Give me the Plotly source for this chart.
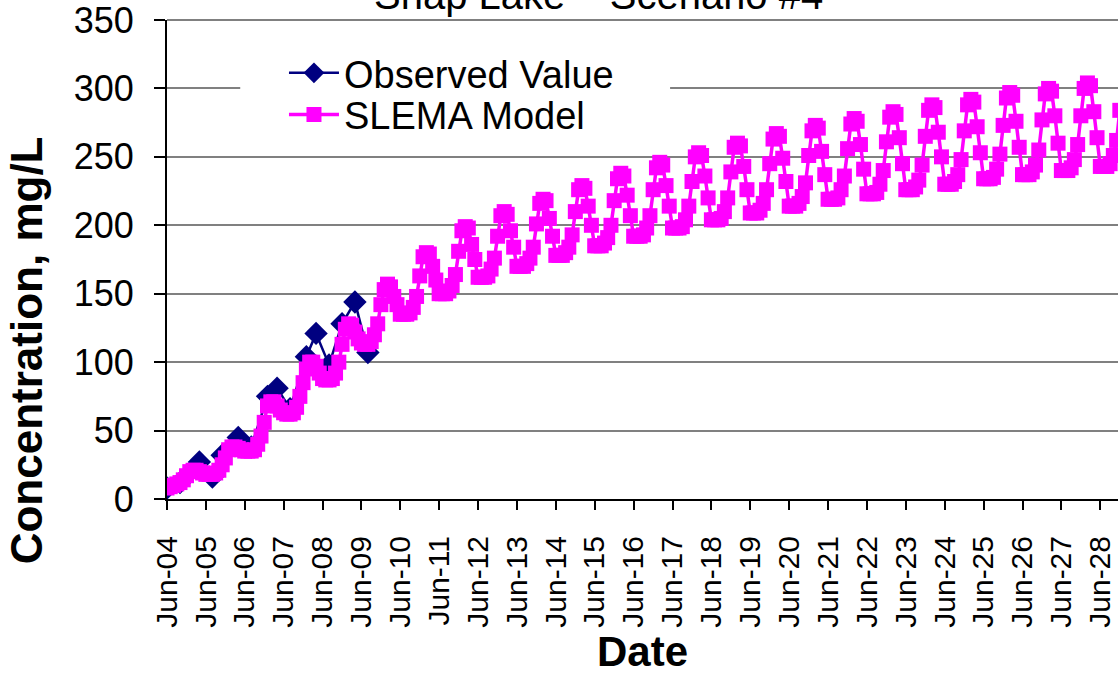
import pandas as pd
import plotly.graph_objects as go

# ---------------- data ----------------
obs_dates = ["2004-06-01", "2004-10-01", "2005-04-01", "2005-08-01", "2005-11-01",
             "2006-04-01", "2006-08-01", "2007-01-01", "2007-04-01", "2007-08-01",
             "2008-01-01", "2008-04-01", "2008-08-01", "2008-12-01", "2009-04-01",
             "2009-08-01"]
obs_values = [8, 12, 27, 16, 32, 45, 38, 75, 81, 66, 104, 121, 98, 128, 144, 107]

# SLEMA model, monthly from Jun-2004 (each row: Jun .. May)
model_values = (
    [8, 9, 10, 11, 12, 14, 17, 20, 21, 21, 20, 19] +            # 2004-05
    [18, 18, 18, 19, 21, 25, 30, 36, 38, 38, 37, 36] +          # 2005-06
    [35, 35, 35, 36, 40, 46, 56, 68, 71, 71, 68, 65] +          # 2006-07
    [63, 62, 62, 63, 67, 75, 85, 95, 100, 100, 97, 92] +        # 2007-08
    [88, 87, 87, 88, 92, 100, 113, 124, 128, 127, 122, 117] +   # 2008-09
    [114, 113, 113, 115, 120, 128, 142, 153, 157, 155, 148, 142] +
    [135, 135, 135, 136, 140, 148, 163, 177, 180, 179, 170, 160] +
    [150, 150, 150, 152, 156, 164, 181, 196, 199, 198, 186, 175] +
    [162, 162, 162, 163, 168, 176, 192, 207, 210, 208, 196, 184] +
    [170, 170, 170, 172, 176, 184, 201, 216, 219, 218, 205, 192] +
    [178, 178, 178, 180, 184, 193, 210, 226, 229, 227, 214, 200] +
    [185, 185, 185, 187, 191, 200, 218, 234, 238, 236, 222, 207] +
    [192, 192, 192, 193, 198, 207, 226, 242, 246, 244, 229, 214] +
    [198, 198, 198, 199, 204, 214, 232, 250, 253, 251, 236, 220] +
    [204, 204, 204, 205, 210, 220, 239, 257, 260, 258, 243, 226] +
    [209, 209, 209, 211, 216, 226, 245, 263, 267, 265, 249, 232] +
    [214, 214, 214, 216, 221, 231, 251, 269, 273, 271, 254, 237] +
    [219, 219, 219, 220, 226, 236, 256, 274, 278, 276, 259, 241] +
    [223, 223, 223, 224, 230, 240, 261, 279, 283, 281, 264, 245] +
    [226, 226, 226, 228, 233, 244, 265, 284, 288, 286, 268, 250] +
    [230, 230, 230, 232, 237, 248, 269, 288, 292, 290, 272, 253] +
    [234, 234, 234, 235, 241, 252, 273, 293, 297, 295, 276, 257] +
    [237, 237, 237, 239, 244, 255, 277, 296, 300, 298, 280, 260] +
    [240, 240, 240, 242, 248, 259, 280, 300, 304, 302, 283, 264] +
    [243, 243, 243, 245, 251, 262, 284]                          # 2028
)
model_dates = pd.date_range("2004-06-01", periods=len(model_values), freq="MS")

tick_dates = [f"{y}-06-01" for y in range(2004, 2029)]
tick_labels = [f"Jun-{y % 100:02d}" for y in range(2004, 2029)]
y_ticks = [0, 50, 100, 150, 200, 250, 300, 350]

title_text = "Snap Lake – Scenario #4"
FONT = "Arial, Liberation Sans, sans-serif"

# ---------------- figure ----------------
fig = go.Figure()
fig.add_trace(go.Scatter(
    x=obs_dates, y=obs_values, name="Observed Value", mode="lines+markers",
    line=dict(color="#000080", width=2.5),
    marker=dict(symbol="diamond", size=18, color="#000080"),
    legend="legend",
))
fig.add_trace(go.Scatter(
    x=model_dates, y=model_values, name="SLEMA Model", mode="lines+markers",
    line=dict(color="#FF00FF", width=3.5),
    marker=dict(symbol="square", size=15, color="#FF00FF"),
    legend="legend2",
))

legend_common = dict(xanchor="left", yanchor="middle", bgcolor="rgba(0,0,0,0)",
                     borderwidth=0, font=dict(size=38, family=FONT), itemwidth=50)

fig.update_layout(
    width=1118, height=681,
    margin=dict(l=167, r=0, t=20, b=182, autoexpand=False),
    paper_bgcolor="white", plot_bgcolor="white",
    font=dict(family=FONT, color="black"),
    showlegend=True,
    legend=dict(x=0.123, y=0.889, **legend_common),
    legend2=dict(x=0.123, y=0.802, **legend_common),
    shapes=[
        dict(type="rect", xref="paper", yref="paper",
             x0=0.077, x1=0.529, y0=0.77, y1=0.937,
             fillcolor="white", line=dict(width=0), layer="above"),
        dict(type="line", xref="paper", yref="paper", x0=0, x1=1, y0=1, y1=1,
             line=dict(color="#808080", width=2), layer="above"),
    ],
    annotations=[
        dict(text=title_text, xref="paper", yref="paper", x=0.454, y=1.052,
             xanchor="center", yanchor="middle", showarrow=False,
             font=dict(size=40, family=FONT)),
        dict(text="<b>Date</b>", xref="paper", yref="paper", x=0.5, y=-0.319,
             xanchor="center", yanchor="middle", showarrow=False,
             font=dict(size=42, family=FONT)),
        dict(text="<b>Concentration, mg/L</b>", xref="paper", yref="paper",
             x=-0.148, y=0.311, xanchor="center", yanchor="middle",
             textangle=-90, showarrow=False, font=dict(size=44, family=FONT)),
    ],
)

fig.update_xaxes(
    type="date", range=["2004-06-01", "2028-11-14"], automargin=False,
    tickvals=tick_dates, ticktext=tick_labels, tickangle=-90,
    tickfont=dict(size=30, family=FONT), ticklabeloverflow="allow",
    ticks="outside", ticklen=9, tickwidth=2, tickcolor="black",
    showline=True, linecolor="black", linewidth=2,
    showgrid=False, zeroline=False, ticklabelstandoff=14,
)
fig.update_yaxes(
    range=[0, 350], tickvals=y_ticks, automargin=False,
    tickfont=dict(size=36, family=FONT), ticklabeloverflow="allow",
    ticks="outside", ticklen=11, tickwidth=1.5, tickcolor="black",
    showline=True, linecolor="black", linewidth=2,
    showgrid=True, gridcolor="#808080", gridwidth=2,
    zeroline=False, ticklabelstandoff=13,
)

fig.write_html("out.html", config={"displayModeBar": False},
               post_script="document.body.style.margin='0';"
                           "document.body.style.overflow='hidden';")
